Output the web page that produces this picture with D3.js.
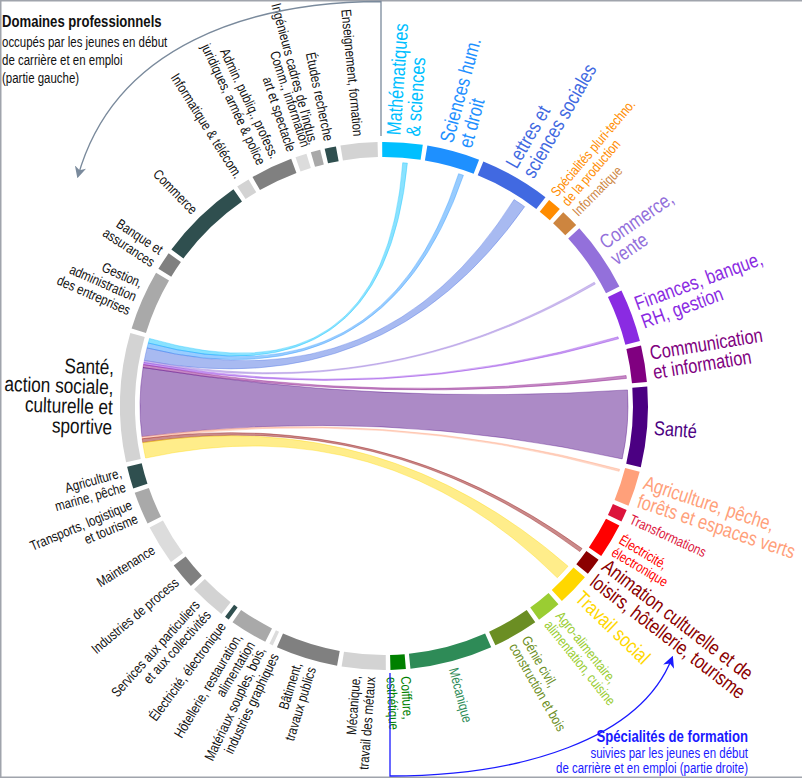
<!DOCTYPE html>
<html>
<head>
<meta charset="utf-8">
<script src="https://cdn.jsdelivr.net/npm/d3@7"></script>
<style>
  body { margin: 0; background: #fff; }
  svg { display: block; }
</style>
</head>
<body>
<div id="chart"></div>
<script>
// Domaines professionnels (partie gauche), du haut vers le bas
const domaines = [
  "Enseignement, formation",
  "Études recherche",
  "Ingénieurs cadres de l'indus.",
  "Comm., information\nart et spectacle",
  "Admin. publiq., profess.\njuridiques, armée & police",
  "Informatique & télécom.",
  "Commerce",
  "Banque et\nassurances",
  "Gestion,\nadministration\ndes entreprises",
  "Santé,\naction sociale,\nculturelle et\nsportive",
  "Agriculture,\nmarine, pêche",
  "Transports, logistique\net tourisme",
  "Maintenance",
  "Industries de process",
  "Services aux particuliers\net aux collectivités",
  "Électricité, électronique",
  "Hôtellerie, restauration,\nalimentation",
  "Matériaux souples, bois,\nindustries graphiques",
  "Bâtiment,\ntravaux publics",
  "Mécanique,\ntravail des métaux"
];
const domaineEffectifs = [8.1, 2.5, 2.1, 2.5, 9.3, 2.9, 18.9, 4.05, 13.25, 28.4,
  4.9, 7.2, 8.8, 5.8, 8.0, 1.0, 8.3, 0.8, 13.7, 9.65];
const domaineCouleurs = ["#d3d3d3", "#2f4f4f", "#a9a9a9", "#dcdcdc", "#808080", "#d3d3d3",
  "#2f4f4f", "#808080", "#a9a9a9", "#d3d3d3", "#2f4f4f", "#a9a9a9", "#dcdcdc", "#808080",
  "#d3d3d3", "#2f4f4f", "#a9a9a9", "#dcdcdc", "#808080", "#d3d3d3"];

// Spécialités de formation (partie droite), du haut vers le bas
const specialites = [
  "Mathématiques\n& sciences",
  "Sciences hum.\net droit",
  "Lettres et\nsciences sociales",
  "Spécialités pluri-techno.\nde la production",
  "Informatique",
  "Commerce,\nvente",
  "Finances, banque,\nRH, gestion",
  "Communication\net information",
  "Santé",
  "Agriculture, pêche,\nforêts et espaces verts",
  "Transformations",
  "Électricité,\nélectronique",
  "Animation culturelle et de\nloisirs, hôtellerie, tourisme",
  "Travail social",
  "Agro-alimentaire,\nalimentation, cuisine",
  "Génie civil,\nconstruction et bois",
  "Mécanique",
  "Coiffure,\nesthétique"
];
const specialiteEffectifs = [8.85, 11.65, 15.6, 3.05, 3.95, 15.35, 11.7, 8.0, 17.65,
  7.75, 2.75, 7.7, 3.8, 7.2, 5.4, 10.0, 18.2, 3.35];
const specialiteCouleurs = ["#00bfff", "#1e90ff", "#4169e1", "#ff8c00", "#cd853f", "#9370db",
  "#8a2be2", "#800080", "#4b0082", "#ffa07a", "#dc143c", "#ff0000", "#8b0000", "#ffd700",
  "#9acd32", "#6b8e23", "#2e8b57", "#008000"];

// Liens du domaine sélectionné vers les spécialités
const domaineSelection = 9;
const lienCibles = [0, 1, 2, 5, 6, 7, 8, 9, 12, 13];
const lienEffectifs = [1.1, 1.2, 3.0, 0.5, 0.5, 0.7, 16.3, 0.5, 0.9, 3.7];
const lienDecalages = [4.8, 8.35, 10.1, 11.8, 9.45, 6.05, 0.45, 0.6, 0.1, 0.6]; // position dans la spécialité

const width = 802, height = 778;
const cx = 384, cy = 406;
const outerR = 264, innerR = 249, ribbonR = 244, labelR = 271;
const rot = -0.9, padU = 1;
const rad = d => d * Math.PI / 180;

const svg = d3.select('#chart').append('svg')
  .attr('width', width)
  .attr('height', height);

// police étroite si disponible, sinon compression horizontale
function textWidth(family) {
  const t = svg.append('text').style('font-family', family).style('font-size', '20px')
    .text('Mathématiques sciences');
  const w = t.node().getComputedTextLength();
  t.remove();
  return w;
}
const wNarrow = textWidth('"Liberation Sans Narrow", "Liberation Sans"');
const wReg = textWidth('"Liberation Sans"');
const hasNarrow = wNarrow < wReg * 0.92;
const font = hasNarrow ? '"Liberation Sans Narrow", "Arial Narrow", sans-serif' : '"Liberation Sans", Arial, sans-serif';
const sx = hasNarrow ? 1 : 0.82;
const squeeze = sx < 1 ? ` scale(${sx},1)` : '';

// cadre
svg.append('path')
  .attr('d', `M${width},0.75 H0.75 V${height - 0.75} H${width}`)
  .attr('fill', 'none')
  .attr('stroke', '#a0a4ac')
  .attr('stroke-width', 1.5);

const g = svg.append('g').attr('transform', `translate(${cx},${cy})`);

// échelles angulaires (degrés)
function groups(values, range) {
  const total = d3.sum(values) + values.length * padU;
  const scale = d3.scaleLinear().domain([0, total]).range(range);
  const offsets = d3.cumsum([0, ...values.map(v => v + padU)]);
  return values.map((v, i) => {
    const a0 = scale(offsets[i] + padU / 2), a1 = scale(offsets[i] + padU / 2 + v);
    return { scale, u0: offsets[i] + padU / 2, start: Math.min(a0, a1), end: Math.max(a0, a1) };
  });
}
const left = groups(domaineEffectifs, [360 + rot, 180 + rot]);
const right = groups(specialiteEffectifs, [rot, 180 + rot]);

const arc = d3.arc().innerRadius(innerR).outerRadius(outerR);

// liens (rubans)
const sel = left[domaineSelection];
const liens = lienCibles.map((t, j) => {
  const u = sel.u0 + d3.sum(lienEffectifs.slice(0, j));
  const s0 = sel.scale(u), s1 = sel.scale(u + lienEffectifs[j]);
  const tg = right[t];
  const t0 = tg.scale(tg.u0 + lienDecalages[j]), t1 = tg.scale(tg.u0 + lienDecalages[j] + lienEffectifs[j]);
  return {
    source: { startAngle: rad(Math.min(s0, s1)), endAngle: rad(Math.max(s0, s1)) },
    target: { startAngle: rad(t0), endAngle: rad(t1) },
    color: specialiteCouleurs[t]
  };
});

const ribbon = d3.ribbon().radius(ribbonR);
g.selectAll('path.lien').data(liens).enter().append('path')
  .classed('lien', true)
  .attr('d', ribbon)
  .attr('fill', d => d.color)
  .attr('fill-opacity', 0.46)
  .attr('stroke', d => d.color)
  .attr('stroke-opacity', 0.35)
  .attr('stroke-width', 1);

// arcs des groupes
const allGroups = [
  ...left.map((d, i) => ({ ...d, name: domaines[i], color: domaineCouleurs[i], side: 'L',
    size: i === domaineSelection ? 21 : 14, lh: i === domaineSelection ? 20 : 15, fill: '#111' })),
  ...right.map((d, i) => {
    const big = lienCibles.includes(i);
    return { ...d, name: specialites[i], color: specialiteCouleurs[i], side: 'R',
      size: big ? 20 : 14, lh: big ? 19.5 : 14.5, fill: specialiteCouleurs[i] };
  })
];

g.selectAll('path.groupe').data(allGroups).enter().append('path')
  .classed('groupe', true)
  .attr('d', d => arc({ startAngle: rad(d.start), endAngle: rad(d.end) }))
  .attr('fill', d => d.color);

// étiquettes
const labels = g.selectAll('text.label').data(allGroups).enter().append('text')
  .classed('label', true)
  .attr('transform', d => {
    const a = (d.start + d.end) / 2;
    return `rotate(${a - 90}) translate(${labelR},0)` + (d.side === 'L' ? ' rotate(180)' : '') + squeeze;
  })
  .attr('text-anchor', d => d.side === 'L' ? 'end' : 'start')
  .style('font-family', font)
  .style('font-size', d => d.size + 'px')
  .attr('fill', d => d.fill);

labels.each(function (d) {
  const lines = d.name.split('\n');
  d3.select(this).selectAll('tspan').data(lines).enter().append('tspan')
    .attr('x', 0)
    .attr('y', (l, i) => (i - (lines.length - 1) / 2) * d.lh)
    .attr('dy', '0.35em')
    .text(l => l);
});

// flèches et titres
const defs = svg.append('defs');
[['grisFleche', '#7a8a9c'], ['bleuFleche', '#1a1aff']].forEach(([id, c]) => {
  defs.append('marker')
    .attr('id', id)
    .attr('viewBox', '0 0 10 10')
    .attr('refX', 8).attr('refY', 5)
    .attr('markerWidth', 9).attr('markerHeight', 9)
    .attr('orient', 'auto')
    .append('path').attr('d', 'M0,0 L10,5 L0,10 L3,5 Z').attr('fill', c);
});

svg.append('path')
  .attr('d', 'M381,136 V1.5 C250,2 115,45 78,176')
  .attr('fill', 'none')
  .attr('stroke', '#7a8a9c')
  .attr('stroke-width', 1.3)
  .attr('marker-end', 'url(#grisFleche)');

svg.append('path')
  .attr('d', 'M390,673 V776 C520,776 640,740 672,658')
  .attr('fill', 'none')
  .attr('stroke', '#1a1aff')
  .attr('stroke-width', 1.3)
  .attr('marker-end', 'url(#bleuFleche)');

function bloc(x, y, anchor, color, lines) {
  const t = svg.append('text')
    .attr('transform', `translate(${x},${y})` + squeeze)
    .attr('text-anchor', anchor)
    .style('font-family', font)
    .attr('fill', color);
  lines.forEach(([txt, size, weight, dy]) => {
    t.append('tspan').attr('x', 0).attr('y', dy)
      .style('font-size', size + 'px')
      .style('font-weight', weight)
      .text(txt);
  });
}

bloc(2, 27, 'start', '#111', [
  ['Domaines professionnels', 16, 'bold', 0],
  ['occupés par les jeunes en début', 14, 'normal', 20],
  ['de carrière et en emploi', 14, 'normal', 38],
  ['(partie gauche)', 14, 'normal', 56]
]);

bloc(748, 742, 'end', '#1a1aff', [
  ['Spécialités de formation', 16, 'bold', 0],
  ['suivies par les jeunes en début', 14, 'normal', 16],
  ['de carrière et en emploi (partie droite)', 14, 'normal', 31]
]);
</script>
</body>
</html>
